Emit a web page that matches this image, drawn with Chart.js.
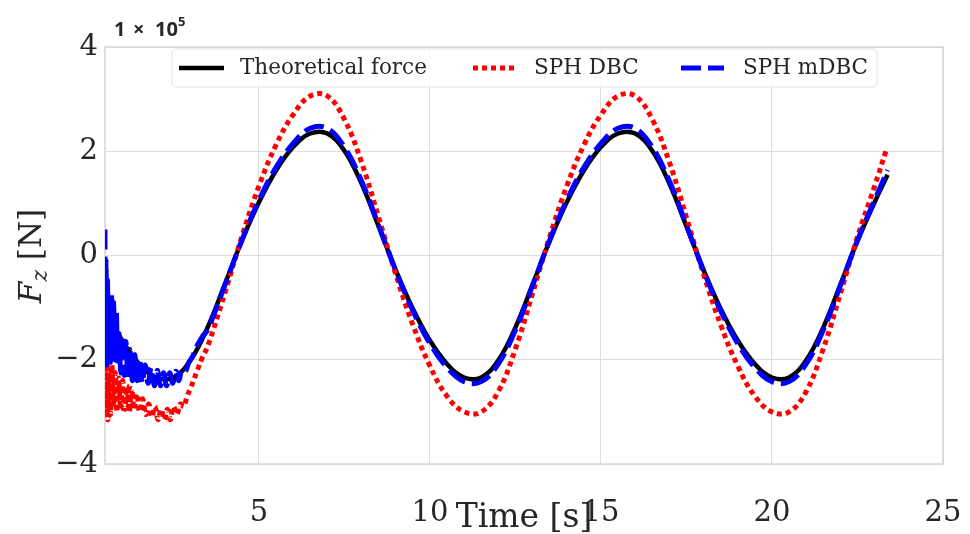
<!DOCTYPE html>
<html lang="en">
<head>
<meta charset="UTF-8">
<title>Fz vs time</title>
<script src="https://cdn.jsdelivr.net/npm/chart.js"></script>
<style>
    body { margin: 0; background: #fff; }
    canvas { display: block; }
</style>
</head>
<body>
<canvas id="grafico" width="970" height="534"></canvas>
<script>
    // values in units of 1e5 N
    const timeTheory = [0.5, 1.0, 1.5, 2.0, 2.5, 3.0, 3.5, 4.0, 4.5, 5.0, 5.5, 6.0, 6.5, 7.0, 7.5, 8.0, 8.5, 9.0,
        9.5, 10.0, 10.5, 11.0, 11.5, 12.0, 12.5, 13.0, 13.5, 14.0, 14.5, 15.0, 15.5, 16.0, 16.5, 17.0, 17.5, 18.0,
        18.5, 19.0, 19.5, 20.0, 20.5, 21.0, 21.5, 22.0, 22.5, 23.0, 23.38];
    const forceTheory = [-1.02, -1.63, -2.08, -2.34, -2.34, -2.01, -1.38, -0.56, 0.28, 1.02, 1.63, 2.08, 2.34, 2.34, 2.01, 1.38, 0.56, -0.28,
        -1.02, -1.63, -2.08, -2.34, -2.34, -2.01, -1.38, -0.56, 0.28, 1.02, 1.63, 2.08, 2.34, 2.34, 2.01, 1.38, 0.56, -0.28,
        -1.02, -1.63, -2.08, -2.34, -2.34, -2.01, -1.38, -0.56, 0.28, 1.02, 1.55];

    const timeDbc = [0.50, 0.52, 0.55, 0.58, 0.62, 0.66, 0.70, 0.75, 0.80, 0.85, 0.90, 0.96, 1.02, 1.08, 1.14, 1.21,
        1.28, 1.35, 1.43, 1.51, 1.60, 1.69, 1.78, 1.87, 1.96, 2.05, 2.14, 2.23, 2.32, 2.41, 2.50, 2.60, 2.70, 2.80,
        2.90, 3.00, 3.20, 3.35, 3.5, 4.0, 4.5, 5.0, 5.5, 6.0, 6.5, 7.0, 7.5, 8.0, 8.5, 9.0, 9.5, 10.0, 10.5, 11.0,
        11.5, 12.0, 12.5, 13.0, 13.5, 14.0, 14.5, 15.0, 15.5, 16.0, 16.5, 17.0, 17.5, 18.0, 18.5, 19.0, 19.5, 20.0,
        20.5, 21.0, 21.5, 22.0, 22.5, 23.0, 23.33];
    const forceDbc = [-1.55, -3.10, -2.00, -3.15, -2.20, -3.05, -2.10, -2.90, -2.25, -3.00, -2.35, -2.95, -2.40, -2.95, -2.50, -3.00,
        -2.55, -2.95, -2.65, -3.00, -2.75, -3.05, -2.85, -3.10, -2.90, -3.15, -2.95, -3.15, -2.95, -3.15, -2.90, -3.05, -2.85, -2.90,
        -2.70, -2.55, -2.20, -1.95, -1.75, -0.73, 0.36, 1.33, 2.12, 2.70, 3.06, 3.06, 2.61, 1.79, 0.73, -0.36, -1.33, -2.12, -2.70, -3.00,
        -3.00, -2.61, -1.79, -0.73, 0.36, 1.33, 2.12, 2.70, 3.06, 3.06, 2.61, 1.79, 0.73, -0.36, -1.33, -2.12, -2.70, -3.00,
        -3.00, -2.61, -1.79, -0.73, 0.36, 1.33, 2.00];

    const timeMdbc = [0.50, 0.51, 0.53, 0.55, 0.57, 0.60, 0.63, 0.66, 0.69, 0.72, 0.75, 0.79, 0.83, 0.87, 0.91, 0.96,
        1.01, 1.06, 1.11, 1.17, 1.23, 1.30, 1.37, 1.44, 1.51, 1.59, 1.67, 1.76, 1.85, 1.94, 2.03, 2.12, 2.21, 2.30,
        2.39, 2.48, 2.57, 2.66, 2.75, 2.85, 2.95, 3.05, 3.20, 3.35, 3.5, 4.0, 4.5, 5.0, 5.5, 6.0, 6.5, 7.0, 7.5, 8.0,
        8.5, 9.0, 9.5, 10.0, 10.5, 11.0, 11.5, 12.0, 12.5, 13.0, 13.5, 14.0, 14.5, 15.0, 15.5, 16.0, 16.5, 17.0, 17.5,
        18.0, 18.5, 19.0, 19.5, 20.0, 20.5, 21.0, 21.5, 22.0, 22.5, 23.0, 23.38];
    const forceMdbc = [0.50, -2.05, -0.10, -2.10, -0.40, -1.95, -0.80, -2.05, -0.75, -1.90, -0.90, -2.00, -1.10, -2.10, -1.50, -2.25,
        -1.55, -2.30, -1.65, -2.35, -1.80, -2.40, -1.90, -2.40, -2.00, -2.45, -2.10, -2.45, -2.15, -2.50, -2.20, -2.50, -2.25, -2.50,
        -2.25, -2.45, -2.22, -2.40, -2.18, -2.22, -2.05, -1.95, -1.72, -1.55, -1.43, -0.58, 0.29, 1.06, 1.69, 2.15, 2.44, 2.44, 2.08, 1.43,
        0.58, -0.29, -1.06, -1.69, -2.15, -2.42, -2.42, -2.08, -1.43, -0.58, 0.29, 1.06, 1.69, 2.15, 2.44, 2.44, 2.08, 1.43, 0.58,
        -0.29, -1.06, -1.69, -2.15, -2.42, -2.42, -2.08, -1.43, -0.58, 0.29, 1.06, 1.64];

    const xTicks = [5, 10, 15, 20, 25];
    const yTicks = [-4, -2, 0, 2, 4];
    const seriesNames = ['Theoretical force', 'SPH DBC', 'SPH mDBC'];

    const pares = (ts, vs) => ts.map((t, i) => ({ x: t, y: vs[i] }));

    const corTexto = '#262626';
    const serif = "'DejaVu Serif', serif";

    // frame, legend, y label and the 1e5 offset text
    const extras = {
        id: 'extras',
        beforeDatasetsDraw(chart) {
            const { ctx, chartArea: a } = chart;
            ctx.save();
            ctx.strokeStyle = '#d6d6d6';
            ctx.lineWidth = 1.5;
            ctx.strokeRect(a.left, a.top, a.right - a.left, a.bottom - a.top);
            ctx.restore();
        },
        afterDraw(chart) {
            const ctx = chart.ctx;
            ctx.save();

            // legend
            const bx = 172, by = 49, bw = 705, bh = 38, r = 4;
            ctx.fillStyle = 'rgba(255,255,255,0.85)';
            ctx.strokeStyle = '#e3e3e3';
            ctx.lineWidth = 1;
            ctx.beginPath();
            ctx.roundRect(bx, by, bw, bh, r);
            ctx.fill();
            ctx.stroke();

            const ly = 68;
            const itens = [
                { x0: 179, x1: 224, tx: 240 },
                { x0: 473, x1: 515, tx: 534 },
                { x0: 681, x1: 724, tx: 743 }
            ];
            itens.forEach((it, i) => {
                const ds = chart.data.datasets[i];
                ctx.strokeStyle = ds.borderColor;
                ctx.lineWidth = ds.borderWidth;
                ctx.setLineDash(ds.borderDash || []);
                ctx.beginPath();
                ctx.moveTo(it.x0, ly);
                ctx.lineTo(it.x1, ly);
                ctx.stroke();
                ctx.setLineDash([]);
                ctx.fillStyle = corTexto;
                ctx.font = "21.5px " + serif;
                ctx.textBaseline = 'middle';
                ctx.textAlign = 'left';
                ctx.fillText(seriesNames[i], it.tx, ly);
            });

            // y label F_z [N]
            ctx.fillStyle = corTexto;
            ctx.textBaseline = 'alphabetic';
            const fF = "italic 31px " + serif, fz = "italic 22px " + serif, fN = "31px " + serif;
            ctx.font = fF; const wF = ctx.measureText('F').width;
            ctx.font = fz; const wz = ctx.measureText('z').width;
            ctx.font = fN; const wN = ctx.measureText(' [N]').width;
            const total = wF + wz + wN;
            ctx.translate(41, 256 + total / 2);
            ctx.rotate(-Math.PI / 2);
            ctx.font = fF; ctx.fillText('F', 0, 0);
            ctx.font = fz; ctx.fillText('z', wF, 6);
            ctx.font = fN; ctx.fillText(' [N]', wF + wz, 0);
            ctx.setTransform(1, 0, 0, 1, 0, 0);

            // offset text
            ctx.fillStyle = corTexto;
            ctx.font = "bold 20px 'Open Sans', 'DejaVu Sans', sans-serif";
            ctx.fillText('1', 114, 36);
            ctx.fillText('\u00d7', 133, 36);
            ctx.fillText('10', 155, 36);
            ctx.font = "bold 13px 'Open Sans', 'DejaVu Sans', sans-serif";
            ctx.fillText('5', 178, 26);
            ctx.restore();
        }
    };

    const ctx = document.getElementById('grafico').getContext('2d');
    new Chart(ctx, {
        type: 'line',
        data: {
            datasets: [
                {
                    label: seriesNames[0],
                    data: pares(timeTheory, forceTheory),
                    borderColor: '#000000',
                    borderWidth: 4.5,
                    order: 3
                },
                {
                    label: seriesNames[1],
                    data: pares(timeDbc, forceDbc),
                    borderColor: '#ff0000',
                    borderWidth: 5,
                    borderDash: [5, 4],
                    order: 2
                },
                {
                    label: seriesNames[2],
                    data: pares(timeMdbc, forceMdbc),
                    borderColor: '#0000ff',
                    borderWidth: 5,
                    borderDash: [20, 7],
                    order: 1
                }
            ]
        },
        options: {
            responsive: false,
            animation: false,
            devicePixelRatio: 1,
            layout: { padding: { top: 47, right: 27, left: 0, bottom: 0 } },
            elements: {
                point: { radius: 0 },
                line: { tension: 0.4, fill: false }
            },
            plugins: {
                legend: { display: false },
                tooltip: { enabled: false }
            },
            scales: {
                x: {
                    type: 'linear',
                    min: 0.5,
                    max: 25,
                    afterBuildTicks: (s) => { s.ticks = xTicks.map(v => ({ value: v })); },
                    afterFit: (s) => { s.height = 70; s.paddingLeft = 0; s.paddingRight = 0; },
                    grid: { color: '#dedede', lineWidth: 1, drawTicks: false },
                    border: { display: false },
                    ticks: {
                        padding: 32,
                        maxRotation: 0,
                        color: corTexto,
                        font: { family: serif, size: 29 }
                    },
                    title: {
                        display: true,
                        text: 'Time [s]',
                        color: corTexto,
                        font: { family: serif, size: 33 },
                        padding: { top: 0, bottom: -4 }
                    }
                },
                y: {
                    min: -4,
                    max: 4,
                    afterBuildTicks: (s) => { s.ticks = yTicks.map(v => ({ value: v })); },
                    afterFit: (s) => { s.width = 105; s.paddingTop = 0; s.paddingBottom = 0; },
                    grid: { color: '#dedede', lineWidth: 1, drawTicks: false },
                    border: { display: false },
                    ticks: {
                        padding: 7,
                        color: corTexto,
                        font: { family: serif, size: 29 },
                        callback: (v) => String(v).replace('-', '\u2212')
                    }
                }
            }
        },
        plugins: [extras]
    });
</script>
</body>
</html>
